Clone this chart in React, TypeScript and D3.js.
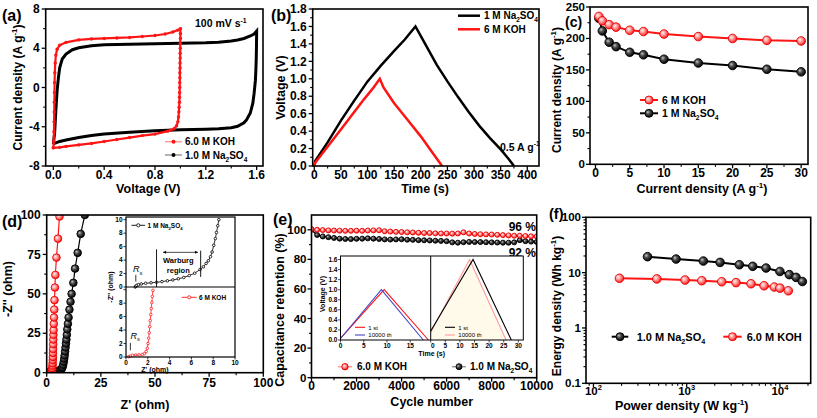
import React from 'react';
import * as d3 from 'd3';

const FONT = "'Liberation Sans', Arial, Helvetica, sans-serif";
const RED = '#ff1414';
const PINK = '#ff9a9a';
const BLUE = '#4646c8';

// ---------- (a) CV ----------
const cvKOH: [number, number][] = [
  [0.0, -6.15], [0.003, -5.5], [0.005, -4.5], [0.006, -3.5], [0.007, -2.5], [0.008, -1.5], [0.009, -0.5],
  [0.01, 0.5], [0.012, 1.5], [0.015, 2.5], [0.02, 3.3], [0.03, 3.9], [0.05, 4.3], [0.1, 4.6], [0.2, 4.85],
  [0.3, 4.95], [0.4, 5.0], [0.5, 5.05], [0.6, 5.1], [0.7, 5.2], [0.8, 5.3], [0.88, 5.45], [0.94, 5.65],
  [0.98, 5.85], [1.0, 6.0], [1.0, 5.5], [1.0, 5.0], [0.999, 4.5], [0.999, 4.0], [0.998, 3.5], [0.998, 3.0],
  [0.997, 2.5], [0.997, 2.0], [0.996, 1.5], [0.996, 1.0], [0.995, 0.5], [0.995, 0], [0.994, -0.5],
  [0.993, -1.0], [0.992, -1.5], [0.99, -2.0], [0.988, -2.5], [0.985, -3.0], [0.98, -3.5], [0.97, -3.9],
  [0.95, -4.2], [0.92, -4.35], [0.9, -4.45], [0.8, -4.75], [0.7, -4.9], [0.6, -5.1], [0.5, -5.3],
  [0.4, -5.5], [0.3, -5.7], [0.2, -5.85], [0.1, -6.0], [0.05, -6.1], [0.0, -6.15],
];
const cvNa: [number, number][] = [
  [0, -5.75], [0.005, -5.2], [0.01, -4.7], [0.015, -3.5], [0.02, -2.3], [0.03, -0.3], [0.04, 1.0],
  [0.05, 2.0], [0.07, 2.9], [0.1, 3.4], [0.15, 3.85], [0.2, 4.05], [0.3, 4.25], [0.4, 4.35], [0.6, 4.4],
  [0.8, 4.45], [1.0, 4.5], [1.2, 4.55], [1.3, 4.62], [1.4, 4.75], [1.45, 4.85], [1.5, 5.0], [1.55, 5.25],
  [1.58, 5.45], [1.6, 5.75], [1.599, 4.5], [1.597, 3.0], [1.594, 1.8], [1.59, 0.7], [1.58, -0.6],
  [1.57, -1.6], [1.55, -2.6], [1.52, -3.3], [1.5, -3.6], [1.45, -3.95], [1.4, -4.1], [1.3, -4.2],
  [1.2, -4.25], [1.0, -4.3], [0.8, -4.4], [0.6, -4.55], [0.4, -4.75], [0.3, -4.9], [0.2, -5.1],
  [0.1, -5.35], [0.05, -5.5], [0, -5.75],
];
const aXTicks = [0, 0.4, 0.8, 1.2, 1.6];
const aYTicks = [-8, -4, 0, 4, 8];

// ---------- (b) GCD ----------
const gcdNa: [number, number][] = [
  [0, 0.0], [2, 0.06], [25, 0.27], [50, 0.52], [75, 0.75], [100, 0.97], [125, 1.15], [150, 1.32],
  [170, 1.45], [190, 1.6], [210, 1.38], [230, 1.16], [250, 0.97], [270, 0.79], [290, 0.62], [310, 0.46],
  [330, 0.32], [350, 0.19], [365, 0.08], [375, 0.0],
];
const gcdKOH: [number, number][] = [
  [0, 0], [2, 0.04], [30, 0.26], [60, 0.5], [90, 0.74], [110, 0.89], [123, 1.0], [130, 0.9], [150, 0.72],
  [175, 0.53], [200, 0.34], [220, 0.17], [240, 0.0],
];
const bXTicks = [0, 50, 100, 150, 200, 250, 300, 350, 400];
const bYTicks = [0, 0.2, 0.4, 0.6, 0.8, 1.0, 1.2, 1.4, 1.6, 1.8];

// ---------- (c) rate ----------
const rateX = [0.5, 1, 2, 3, 5, 7, 10, 15, 20, 25, 30];
const rateKOH = [235, 228, 222, 218, 213, 211, 207, 203, 200, 197, 196];
const rateNa = [232, 212, 194, 187, 178, 174, 167, 161, 157, 151, 147];
const cXTicks = [0, 5, 10, 15, 20, 25, 30];
const cYTicks = [0, 50, 100, 150, 200, 250];

// ---------- (d) Nyquist ----------
const nyqKOH: [number, number][] = [
  [0.5, 0.2], [1, 0.3], [1.5, 0.4], [2, 0.6], [2.3, 1], [2.5, 2], [2.6, 3], [2.7, 4.5], [2.75, 6], [2.8, 8],
  [2.85, 10], [2.9, 12.5], [2.95, 15], [3.0, 18], [3.05, 21], [3.1, 24], [3.2, 27], [3.3, 31], [3.4, 35],
  [3.5, 40], [3.6, 46], [3.8, 54], [4.0, 62], [4.5, 73], [5.2, 85], [5.9, 99],
];
const nyqNa: [number, number][] = [
  [2, 0.5], [3, 0.7], [4, 0.9], [5, 1.1], [6, 1.5], [6.5, 1.9], [7, 2.6], [7.3, 3.5], [7.6, 5], [7.9, 7],
  [8.1, 9], [8.3, 11], [8.5, 13.5], [8.7, 16], [8.9, 18.5], [9.1, 21], [9.3, 24], [9.5, 27.5], [9.8, 31],
  [10.1, 35], [10.5, 40], [11, 45], [11.5, 50], [12.3, 57], [13.1, 66], [14.3, 76], [15.7, 88], [17.6, 100],
];
const insetNa: [number, number][] = [
  [0.85, 0.0], [0.9, 0.12], [1.0, 0.25], [1.15, 0.35], [1.4, 0.45], [1.8, 0.55], [2.3, 0.63], [2.8, 0.7],
  [3.3, 0.8], [3.8, 0.92], [4.3, 1.05], [4.8, 1.22], [5.3, 1.42], [5.8, 1.7], [6.3, 2.05], [6.8, 2.6],
  [7.1, 3.0], [7.35, 3.5], [7.55, 3.9], [7.75, 4.5], [7.9, 5.2], [8.05, 6.2], [8.2, 7.2], [8.3, 8.1],
  [8.42, 9.1], [8.52, 10],
];
const insetKOH: [number, number][] = [
  [0.25, 0.05], [0.4, 0.15], [0.6, 0.25], [0.9, 0.3], [1.2, 0.32], [1.5, 0.38], [1.7, 0.5], [1.85, 0.8],
  [1.95, 1.3], [2.02, 2.0], [2.08, 2.8], [2.13, 3.6], [2.18, 4.5], [2.22, 5.4], [2.27, 6.3], [2.32, 7.2],
  [2.37, 8.1], [2.42, 9.0], [2.47, 9.9],
];
const dTicks = [0, 25, 50, 75, 100];
const insetXTicks = [0, 2, 4, 6, 8, 10];
const insetYTicks = [0, 2, 4, 6, 8, 10];

// ---------- (e) cycling ----------
const cycles = [
  0, 250, 500, 750, 1000, 1250, 1500, 1750, 2000, 2250, 2500, 2750, 3000, 3250, 3500, 3750, 4000, 4250,
  4500, 4750, 5000, 5250, 5500, 5750, 6000, 6250, 6500, 6750, 7000, 7250, 7500, 7750, 8000, 8250, 8500,
  8750, 9000, 9250, 9500, 9750, 10000,
];
const retKOH = [
  100.5, 100, 99.8, 99.6, 99.5, 99.4, 99.3, 99.3, 99.4, 99.3, 99.5, 99.6, 99.7, 99.0, 98.8, 98.6, 98.5,
  98.3, 98.2, 98.0, 97.8, 97.8, 97.6, 97.5, 97.5, 97.4, 97.5, 98.3, 97.5, 97.2, 97.0, 96.9, 96.8, 96.6,
  96.4, 96.2, 96.0, 96.0, 95.8, 95.6, 95.5,
];
const retNa = [
  100, 96.5, 95.5, 95, 94.5, 94, 93.8, 93.7, 93.9, 94, 94.2, 94, 93.8, 93.5, 93.4, 93.5, 93.6, 93.3, 93.2,
  93.0, 92.9, 92.8, 92.6, 92.5, 92.3, 91.5, 91.3, 91.6, 91.8, 91.7, 91.7, 91.6, 91.5, 91.4, 91.3, 91.3,
  91.5, 93.0, 92.3, 92.0, 91.8,
];
const eXTicks = [0, 2000, 4000, 6000, 8000, 10000];
const eYTicks = [0, 20, 40, 60, 80, 100];
const inKOH1st: [number, number][] = [[0, 0.03], [9.4, 1.0], [18.9, 0.0]];
const inKOH10k: [number, number][] = [[0, 0.03], [8.8, 1.0], [17.8, 0.0]];
const inNa1st: [number, number][] = [[0, 0.18], [14.5, 1.6], [27.6, 0.0]];
const inNa10k: [number, number][] = [[0, 0.15], [13.3, 1.6], [25.8, 0.0]];
const inLeftXTicks = [0, 5, 10, 15];
const inRightXTicks = [0, 5, 10, 15, 20, 25, 30];
const inYTicks = [0, 0.2, 0.4, 0.6, 0.8, 1.0, 1.2, 1.4, 1.6];

// ---------- (f) Ragone ----------
const ragNaP = [380, 770, 1510, 2280, 3670, 5110, 7100, 10000, 12600, 14900, 17400];
const ragNaE = [19.4, 17.6, 16.2, 15.3, 13.9, 13.0, 12.1, 10.5, 9.2, 8.2, 6.9];
const ragKOHP = [190, 478, 961, 1452, 2376, 3380, 4900, 6760, 8710, 10000, 12300];
const ragKOHE = [7.9, 7.7, 7.35, 7.15, 6.85, 6.6, 6.3, 5.8, 5.5, 5.25, 4.7];
const fXTicks = [100, 1000, 10000];
const fYTicks = [0.1, 1, 10, 100];

type Seg = string | { sub: string } | { sup: string };

function Rich({ x, y, segs, size, anchor = 'start', weight = 'bold', rotate = false, fill = '#000', italic = false }: any) {
  let shift = 0;
  const els: any[] = [];
  (segs as Seg[]).forEach((s, i) => {
    if (typeof s === 'string') {
      els.push(<tspan key={i} dy={-shift} fontSize={size}>{s}</tspan>);
      shift = 0;
    } else if ('sub' in s) {
      const d = size * 0.3;
      els.push(<tspan key={i} dy={d - shift} fontSize={size * 0.65}>{s.sub}</tspan>);
      shift = d;
    } else {
      const d = -size * 0.42;
      els.push(<tspan key={i} dy={d - shift} fontSize={size * 0.65}>{s.sup}</tspan>);
      shift = d;
    }
  });
  return (
    <text x={x} y={y} fontFamily={FONT} fontWeight={weight} fontStyle={italic ? 'italic' : 'normal'}
      fontSize={size} textAnchor={anchor} fill={fill}
      transform={rotate ? `rotate(-90, ${x}, ${y})` : undefined}>{els}</text>
  );
}

function Axes({ x, y, xTicks, yTicks, xMinor = [], yMinor = [], xFmt = (d: any) => String(d), yFmt = (d: any) => String(d),
  fs = 12, yfs, tl = 4, ml = 2.5, sw = 1.6, xLab = true, yLab = true, xGap = 13, yGap = 6, xRender, frame = true }: any) {
  const [x0, x1] = x.range();
  const [y0, y1] = y.range();
  const yf = yfs || fs;
  return (
    <g>
      {frame && <rect x={x0} y={y1} width={x1 - x0} height={y0 - y1} fill="none" stroke="#000" strokeWidth={sw} />}
      {xTicks.map((t: number, i: number) => (
        <g key={'xt' + i}>
          <line x1={x(t)} x2={x(t)} y1={y0} y2={y0 + tl} stroke="#000" strokeWidth={sw * 0.8} />
          {xLab && (xRender ? xRender(t, x(t), y0 + xGap) :
            <text x={x(t)} y={y0 + xGap} textAnchor="middle" fontFamily={FONT} fontWeight="bold" fontSize={fs}>{xFmt(t)}</text>)}
        </g>
      ))}
      {xMinor.map((t: number, i: number) => (
        <line key={'xm' + i} x1={x(t)} x2={x(t)} y1={y0} y2={y0 + ml} stroke="#000" strokeWidth={sw * 0.7} />
      ))}
      {yTicks.map((t: number, i: number) => (
        <g key={'yt' + i}>
          <line x1={x0} x2={x0 - tl} y1={y(t)} y2={y(t)} stroke="#000" strokeWidth={sw * 0.8} />
          {yLab && <text x={x0 - yGap} y={y(t)} dy="0.35em" textAnchor="end" fontFamily={FONT} fontWeight="bold" fontSize={yf}>{yFmt(t)}</text>}
        </g>
      ))}
      {yMinor.map((t: number, i: number) => (
        <line key={'ym' + i} x1={x0} x2={x0 - ml} y1={y(t)} y2={y(t)} stroke="#000" strokeWidth={sw * 0.7} />
      ))}
    </g>
  );
}

const NA = (pre: string): Seg[] => [pre + 'Na', { sub: '2' }, 'SO', { sub: '4' }];

function Sphere({ cx, cy, r, color }: any) {
  return <circle cx={cx} cy={cy} r={r} fill={color === 'red' ? 'url(#gRed)' : 'url(#gBlack)'}
    stroke={color === 'red' ? '#e80000' : '#000'} strokeWidth={0.9} />;
}

function clipRect(id: string, x: any, y: any) {
  const [x0, x1] = x.range();
  const [y0, y1] = y.range();
  return <clipPath id={id}><rect x={x0} y={y1} width={x1 - x0} height={y0 - y1} /></clipPath>;
}

const range = (a: number, b: number, s: number) => d3.range(a, b + s / 2, s);

export default function App() {
  // scales
  const xA = d3.scaleLinear().domain([-0.06, 1.65]).range([45.7, 263]);
  const yA = d3.scaleLinear().domain([-8, 8]).range([166, 9]);
  const xB = d3.scaleLinear().domain([-3, 422]).range([312.7, 539]);
  const yB = d3.scaleLinear().domain([0, 1.8]).range([166, 9]);
  const xC = d3.scaleLinear().domain([-0.8, 31]).range([590, 808]);
  const yC = d3.scaleLinear().domain([0, 250]).range([164.3, 7]);
  const xD = d3.scaleLinear().domain([0, 100]).range([46.7, 263.3]);
  const yD = d3.scaleLinear().domain([0, 100]).range([372.7, 215]);
  const xDi = d3.scaleLinear().domain([0, 10]).range([126, 235]);
  const yDu = d3.scaleLinear().domain([0, 10.4]).range([287, 217]);
  const yDl = d3.scaleLinear().domain([0, 10.4]).range([357, 287]);
  const xE = d3.scaleLinear().domain([0, 10000]).range([311.5, 536.7]);
  const yE = d3.scaleLinear().domain([0, 110]).range([377.7, 215]);
  const xEl = d3.scaleLinear().domain([0, 19.4]).range([340.5, 430.7]);
  const xEr = d3.scaleLinear().domain([0, 31.7]).range([430.7, 523.3]);
  const yEi = d3.scaleLinear().domain([0, 1.67]).range([340, 256]);
  const xF = d3.scaleLog().domain([Math.pow(10, 1.92), Math.pow(10, 4.33)]).range([586, 810.7]);
  const yF = d3.scaleLog().domain([0.1, 100]).range([383.3, 217.3]);

  const ln = (xs: any, ys: any) => d3.line<[number, number]>().x(d => xs(d[0])).y(d => ys(d[1]));
  const lnC = (xs: any, ys: any, X: number[], Y: number[]) =>
    d3.line<number>().x((_, i) => xs(X[i])).y((_, i) => ys(Y[i]))(X);

  const fMinor: number[] = [];
  [10, 100, 1000, 10000].forEach(dec => { for (let k = 2; k <= 9; k++) { const v = dec * k; if (v > xF.domain()[0] && v < xF.domain()[1]) fMinor.push(v); } });
  const fYMinor: number[] = [];
  [0.1, 1, 10].forEach(dec => { for (let k = 2; k <= 9; k++) fYMinor.push(dec * k); });

  return (
    <svg width={817} height={418} style={{ position: 'absolute', left: 0, top: 0, background: '#fff' }}
      xmlns="http://www.w3.org/2000/svg">
      <defs>
        <radialGradient id="gRed" cx="0.4" cy="0.4" r="0.6" fx="0.35" fy="0.35">
          <stop offset="0%" stopColor="#fff4f4" />
          <stop offset="45%" stopColor="#ff9c9c" />
          <stop offset="100%" stopColor="#ff1a1a" />
        </radialGradient>
        <radialGradient id="gBlack" cx="0.4" cy="0.4" r="0.6" fx="0.35" fy="0.35">
          <stop offset="0%" stopColor="#c8c8c8" />
          <stop offset="40%" stopColor="#505050" />
          <stop offset="100%" stopColor="#000" />
        </radialGradient>
        {clipRect('cA', xA, yA)}
        {clipRect('cB', xB, yB)}
        {clipRect('cC', xC, yC)}
        {clipRect('cD', xD, yD)}
        {clipRect('cE', xE, yE)}
        {clipRect('cF', xF, yF)}
      </defs>
      <rect x={0} y={0} width={817} height={418} fill="#fff" />

      {/* ================= (a) ================= */}
      <g>
        <g clipPath="url(#cA)">
          <path d={ln(xA, yA)(cvNa) || ''} fill="none" stroke="#000" strokeWidth={3} />
          <path d={ln(xA, yA)(cvKOH) || ''} fill="none" stroke={RED} strokeWidth={2.2} />
          {cvKOH.map((d, i) => <circle key={i} cx={xA(d[0])} cy={yA(d[1])} r={1.7} fill={RED} />)}
        </g>
        <Axes x={xA} y={yA} xTicks={aXTicks} yTicks={aYTicks} xMinor={[0.2, 0.6, 1.0, 1.4]} yMinor={[-6, -2, 2, 6]}
          xFmt={(d: number) => d.toFixed(1)} />
        <Rich x={195} y={27} size={10.5} segs={['100 mV s', { sup: '-1' }]} />
        <line x1={165} x2={182} y1={141.7} y2={141.7} stroke={PINK} strokeWidth={1.5} />
        <circle cx={173.5} cy={141.7} r={2} fill={RED} />
        <Rich x={185} y={145.3} size={10} segs={['6.0 M KOH']} />
        <line x1={165} x2={182} y1={155} y2={155} stroke="#9a9a9a" strokeWidth={1.5} />
        <circle cx={173.5} cy={155} r={2} fill="#000" />
        <Rich x={185} y={158.6} size={10} segs={NA('1.0 M ')} />
        <Rich x={22} y={87.5} size={12} rotate segs={['Current density (A g', { sup: '-1' }, ')']} anchor="middle" />
        <Rich x={148.3} y={192.7} size={12.5} segs={['Voltage (V)']} anchor="middle" />
        <Rich x={2} y={20.7} size={16} segs={['(a)']} />
      </g>

      {/* ================= (b) ================= */}
      <g>
        <g clipPath="url(#cB)">
          <path d={ln(xB, yB)(gcdNa) || ''} fill="none" stroke="#000" strokeWidth={2.5} />
          <path d={ln(xB, yB)(gcdKOH) || ''} fill="none" stroke={RED} strokeWidth={2.5} />
        </g>
        <Axes x={xB} y={yB} xTicks={bXTicks} yTicks={bYTicks} xMinor={range(25, 375, 50)} yMinor={range(0.1, 1.7, 0.2)}
          yFmt={(d: number) => d.toFixed(1)} />
        <line x1={458} x2={480} y1={15.7} y2={15.7} stroke="#000" strokeWidth={2.5} />
        <Rich x={484} y={19.3} size={10} segs={NA('1 M ')} />
        <line x1={458} x2={480} y1={29.3} y2={29.3} stroke={RED} strokeWidth={2.5} />
        <Rich x={484} y={32.9} size={10} segs={['6 M KOH']} />
        <Rich x={500} y={150.5} size={10.5} segs={['0.5 A g', { sup: '-1' }]} />
        <Rich x={285} y={87.5} size={12.5} rotate segs={['Voltage (V)']} anchor="middle" />
        <Rich x={425} y={192.7} size={12.5} segs={['Time (s)']} anchor="middle" />
        <Rich x={271} y={20.7} size={16} segs={['(b)']} />
      </g>

      {/* ================= (c) ================= */}
      <g>
        <g clipPath="url(#cC)">
          <path d={lnC(xC, yC, rateX, rateNa) || ''} fill="none" stroke="#000" strokeWidth={2} />
          <path d={lnC(xC, yC, rateX, rateKOH) || ''} fill="none" stroke={RED} strokeWidth={2} />
        </g>
        {rateX.map((v, i) => <Sphere key={'n' + i} cx={xC(v)} cy={yC(rateNa[i])} r={4.3} color="black" />)}
        {rateX.map((v, i) => <Sphere key={'k' + i} cx={xC(v)} cy={yC(rateKOH[i])} r={4.3} color="red" />)}
        <Axes x={xC} y={yC} xTicks={cXTicks} yTicks={cYTicks} xMinor={range(2.5, 27.5, 5)} yMinor={range(25, 225, 50)}
          yfs={11.5} yGap={5} />
        <line x1={640} x2={658} y1={100} y2={100} stroke={RED} strokeWidth={2} />
        <Sphere cx={649} cy={100} r={4} color="red" />
        <Rich x={662} y={103.8} size={10.5} segs={['6 M KOH']} />
        <line x1={640} x2={658} y1={113.3} y2={113.3} stroke="#000" strokeWidth={2} />
        <Sphere cx={649} cy={113.3} r={4} color="black" />
        <Rich x={662} y={117.1} size={10.5} segs={NA('1 M ')} />
        <Rich x={561} y={90} size={12} rotate segs={['Current density (A g', { sup: '-1' }, ')']} anchor="middle" />
        <Rich x={702} y={193} size={12.5} segs={['Current density (A g', { sup: '-1' }, ')']} anchor="middle" />
        <Rich x={565} y={26.5} size={14} segs={['(c)']} />
      </g>

      {/* ================= (d) ================= */}
      <g>
        <g clipPath="url(#cD)">
          <path d={ln(xD, yD)(nyqNa) || ''} fill="none" stroke="#000" strokeWidth={1.2} />
          <path d={ln(xD, yD)(nyqKOH) || ''} fill="none" stroke={RED} strokeWidth={1.2} />
          {nyqNa.map((d, i) => <Sphere key={'n' + i} cx={xD(d[0])} cy={yD(d[1])} r={3.8} color="black" />)}
          {nyqKOH.map((d, i) => <Sphere key={'k' + i} cx={xD(d[0])} cy={yD(d[1])} r={3.8} color="red" />)}
        </g>
        <Axes x={xD} y={yD} xTicks={dTicks} yTicks={dTicks} xMinor={range(12.5, 87.5, 25)} yMinor={range(12.5, 87.5, 25)} xGap={14} />
        <Rich x={12} y={289} size={12.5} rotate segs={["-Z'' (ohm)"]} anchor="middle" />
        <Rich x={145} y={409} size={12.5} segs={["Z' (ohm)"]} anchor="middle" />
        <Rich x={2} y={226.7} size={16} segs={['(d)']} />

        {/* inset */}
        <rect x={126} y={217} width={109} height={140} fill="#fff" />
        <path d={ln(xDi, yDu)(insetNa) || ''} fill="none" stroke="#000" strokeWidth={0.8} />
        {insetNa.map((d, i) => <circle key={'in' + i} cx={xDi(d[0])} cy={yDu(d[1])} r={1.3} fill="#fff" stroke="#000" strokeWidth={0.8} />)}
        <path d={ln(xDi, yDl)(insetKOH) || ''} fill="none" stroke={RED} strokeWidth={0.8} />
        {insetKOH.map((d, i) => <circle key={'ik' + i} cx={xDi(d[0])} cy={yDl(d[1])} r={1.3} fill="#fff" stroke={RED} strokeWidth={0.8} />)}
        <rect x={126} y={217} width={109} height={140} fill="none" stroke="#000" strokeWidth={1.2} />
        <line x1={126} x2={235} y1={yDu(0)} y2={yDu(0)} stroke="#000" strokeWidth={1.2} />
        {insetXTicks.map((t, i) => (
          <g key={'dx' + i}>
            <line x1={xDi(t)} x2={xDi(t)} y1={357} y2={359.5} stroke="#000" strokeWidth={0.8} />
            <text x={xDi(t)} y={364.5} textAnchor="middle" fontFamily={FONT} fontWeight="bold" fontSize={6.5}>{t}</text>
          </g>
        ))}
        {insetYTicks.map((t, i) => (
          <g key={'dy' + i}>
            <line x1={126} x2={123.5} y1={yDu(t)} y2={yDu(t)} stroke="#000" strokeWidth={0.8} />
            <text x={122.5} y={yDu(t)} dy="0.35em" textAnchor="end" fontFamily={FONT} fontWeight="bold" fontSize={6.5}>{t}</text>
            <line x1={126} x2={123.5} y1={yDl(t)} y2={yDl(t)} stroke="#000" strokeWidth={0.8} />
            {t < 10 && t > 0 && <text x={122.5} y={yDl(t)} dy="0.35em" textAnchor="end" fontFamily={FONT} fontWeight="bold" fontSize={6.5}>{t}</text>}
            {t === 0 && <text x={122.5} y={yDl(t)} dy="0.35em" textAnchor="end" fontFamily={FONT} fontWeight="bold" fontSize={6.5}>0</text>}
          </g>
        ))}
        <Rich x={113} y={287} size={7} rotate segs={["-Z'' (ohm)"]} anchor="middle" />
        <Rich x={155} y={372} size={7} segs={["Z' (ohm)"]} anchor="middle" />
        {/* annotations */}
        <line x1={xDi(2.8)} x2={xDi(2.8)} y1={yDu(0)} y2={yDu(5.6)} stroke="#000" strokeWidth={0.9} />
        <line x1={xDi(6.85)} x2={xDi(6.85)} y1={yDu(1.5)} y2={yDu(5.4)} stroke="#000" strokeWidth={0.9} />
        <line x1={xDi(3.4)} x2={xDi(6.6)} y1={yDu(5.15)} y2={yDu(5.15)} stroke="#000" strokeWidth={0.7} />
        <path d={`M${xDi(3.4)},${yDu(5.15)} l3,-1.5 l0,3 z`} fill="#000" />
        <path d={`M${xDi(6.6)},${yDu(5.15)} l-3,-1.5 l0,3 z`} fill="#000" />
        <Rich x={xDi(4.8)} y={yDu(3.5)} size={7.5} segs={['Warburg']} anchor="middle" />
        <Rich x={xDi(4.8)} y={yDu(2.1)} size={7.5} segs={['region']} anchor="middle" />
        <Rich x={133} y={272} size={9} weight="normal" italic segs={['R', { sub: 's' }]} />
        <line x1={xDi(0.9)} x2={xDi(0.9)} y1={yDu(0.8)} y2={yDu(1.8)} stroke="#000" strokeWidth={0.8} />
        <Rich x={130.5} y={338.5} size={9} weight="normal" italic segs={['R', { sub: 's' }]} />
        <line x1={xDi(0.4)} x2={xDi(0.4)} y1={yDl(1.0)} y2={yDl(2.1)} stroke="#000" strokeWidth={0.8} />
        <line x1={131.5} x2={145} y1={225.3} y2={225.3} stroke="#000" strokeWidth={0.9} />
        <circle cx={138.3} cy={225.3} r={1.6} fill="#fff" stroke="#000" strokeWidth={0.8} />
        <Rich x={147.5} y={227.8} size={6.5} segs={NA('1 M ')} />
        <line x1={181.7} x2={196.7} y1={297.3} y2={297.3} stroke={RED} strokeWidth={0.9} />
        <circle cx={189.2} cy={297.3} r={1.6} fill="#fff" stroke={RED} strokeWidth={0.8} />
        <Rich x={199} y={299.8} size={6.5} segs={['6 M KOH']} />
      </g>

      {/* ================= (e) ================= */}
      <g>
        <g clipPath="url(#cE)">
          <path d={lnC(xE, yE, cycles, retNa) || ''} fill="none" stroke="#000" strokeWidth={1.5} />
          {cycles.map((c, i) => <Sphere key={'n' + i} cx={xE(c)} cy={yE(retNa[i])} r={2.5} color="black" />)}
          <path d={lnC(xE, yE, cycles, retKOH) || ''} fill="none" stroke={RED} strokeWidth={1.5} />
          {cycles.map((c, i) => <Sphere key={'k' + i} cx={xE(c)} cy={yE(retKOH[i])} r={2.5} color="red" />)}
        </g>
        <Axes x={xE} y={yE} xTicks={eXTicks} yTicks={eYTicks} xMinor={range(1000, 9000, 2000)} yMinor={range(10, 90, 20)}
          yfs={11.5} yGap={5} xGap={12.3} />
        <text x={536} y={230.5} textAnchor="end" fontFamily={FONT} fontWeight="bold" fontSize={12}>96 %</text>
        <text x={536} y={257} textAnchor="end" fontFamily={FONT} fontWeight="bold" fontSize={12}>92 %</text>
        <line x1={338} x2={352} y1={366.7} y2={366.7} stroke={PINK} strokeWidth={1.5} />
        <Sphere cx={345} cy={366.7} r={3.2} color="red" />
        <Rich x={357} y={370.2} size={10} segs={['6.0 M KOH']} />
        <line x1={452} x2={466} y1={366.7} y2={366.7} stroke="#9a9a9a" strokeWidth={1.5} />
        <Sphere cx={459} cy={366.7} r={3} color="black" />
        <Rich x={470} y={370.2} size={10} segs={NA('1.0 M ')} />
        <Rich x={284} y={310} size={12.5} rotate segs={['Capacitance retention (%)']} anchor="middle" />
        <Rich x={431.7} y={405.5} size={12.5} segs={['Cycle number']} anchor="middle" />
        <Rich x={273} y={225} size={16} segs={['(e)']} />

        {/* inset */}
        <rect x={340.5} y={256} width={182.8} height={84} fill="#fff" />
        <path d={`${ln(xEr, yEi)(inNa10k)}L${xEr(0)},${yEi(0)}Z`} fill="#fffaea" stroke="none" />
        <path d={ln(xEl, yEi)(inKOH1st) || ''} fill="none" stroke={RED} strokeWidth={1.1} />
        <path d={ln(xEl, yEi)(inKOH10k) || ''} fill="none" stroke={BLUE} strokeWidth={1.1} />
        <path d={ln(xEr, yEi)(inNa10k) || ''} fill="none" stroke={PINK} strokeWidth={1.1} />
        <path d={ln(xEr, yEi)(inNa1st) || ''} fill="none" stroke="#000" strokeWidth={1.1} />
        <rect x={340.5} y={256} width={182.8} height={84} fill="none" stroke="#000" strokeWidth={1} />
        <line x1={430.7} x2={430.7} y1={256} y2={340} stroke="#000" strokeWidth={1} />
        {inLeftXTicks.map((t, i) => (
          <g key={'el' + i}>
            <line x1={xEl(t)} x2={xEl(t)} y1={340} y2={342.5} stroke="#000" strokeWidth={0.7} />
            <text x={xEl(t)} y={348} textAnchor="middle" fontFamily={FONT} fontWeight="bold" fontSize={6.5}>{t}</text>
          </g>
        ))}
        {inRightXTicks.map((t, i) => (
          <g key={'er' + i}>
            <line x1={xEr(t)} x2={xEr(t)} y1={340} y2={342.5} stroke="#000" strokeWidth={0.7} />
            <text x={xEr(t) + (t === 0 ? 2 : 0)} y={348} textAnchor="middle" fontFamily={FONT} fontWeight="bold" fontSize={6.5}>{t}</text>
          </g>
        ))}
        {inYTicks.map((t, i) => (
          <g key={'ey' + i}>
            <line x1={340.5} x2={338} y1={yEi(t)} y2={yEi(t)} stroke="#000" strokeWidth={0.7} />
            <text x={337.5} y={yEi(t)} dy="0.35em" textAnchor="end" fontFamily={FONT} fontWeight="bold" fontSize={6.5}>{t.toFixed(1)}</text>
          </g>
        ))}
        <Rich x={325} y={294} size={7} rotate segs={['Voltage (V)']} anchor="middle" />
        <Rich x={431.7} y={356} size={7} segs={['Time (s)']} anchor="middle" />
        <line x1={355} x2={365} y1={327.3} y2={327.3} stroke={RED} strokeWidth={1.1} />
        <Rich x={368.3} y={329.5} size={6} weight="normal" segs={['1 st']} />
        <line x1={355} x2={365} y1={335} y2={335} stroke={BLUE} strokeWidth={1.1} />
        <Rich x={368.3} y={337.2} size={6} weight="normal" segs={['10000 th']} />
        <line x1={445} x2={455} y1={327.3} y2={327.3} stroke="#000" strokeWidth={1.1} />
        <Rich x={458.3} y={329.5} size={6} weight="normal" segs={['1 st']} />
        <line x1={445} x2={455} y1={335} y2={335} stroke={PINK} strokeWidth={1.1} />
        <Rich x={458.3} y={337.2} size={6} weight="normal" segs={['10000 th']} />
      </g>

      {/* ================= (f) ================= */}
      <g>
        <g clipPath="url(#cF)">
          <path d={lnC(xF, yF, ragNaP, ragNaE) || ''} fill="none" stroke="#000" strokeWidth={2} />
          <path d={lnC(xF, yF, ragKOHP, ragKOHE) || ''} fill="none" stroke={RED} strokeWidth={2} />
        </g>
        {ragNaP.map((p, i) => <Sphere key={'n' + i} cx={xF(p)} cy={yF(ragNaE[i])} r={4.3} color="black" />)}
        {ragKOHP.map((p, i) => <Sphere key={'k' + i} cx={xF(p)} cy={yF(ragKOHE[i])} r={4.3} color="red" />)}
        <Axes x={xF} y={yF} xTicks={fXTicks} yTicks={fYTicks} xMinor={fMinor} yMinor={fYMinor} yfs={11.5} yGap={5}
          xRender={(t: number, px: number, py: number) => (
            <Rich x={px} y={py - 1} size={11.5} anchor="middle" segs={['10', { sup: String(Math.round(Math.log10(t))) }]} />
          )}
          yFmt={(d: number) => String(d)} />
        <line x1={611.7} x2={628.3} y1={336.7} y2={336.7} stroke="#000" strokeWidth={2} />
        <Sphere cx={620} cy={336.7} r={4} color="black" />
        <Rich x={636.7} y={340.6} size={11} segs={NA('1.0 M ')} />
        <line x1={723.3} x2={741.7} y1={336.7} y2={336.7} stroke={RED} strokeWidth={2} />
        <Sphere cx={732.5} cy={336.7} r={4} color="red" />
        <Rich x={746.7} y={340.6} size={11} segs={['6.0 M KOH']} />
        <Rich x={561} y={306} size={12} rotate segs={['Energy density (Wh kg', { sup: '-1' }, ')']} anchor="middle" />
        <Rich x={681.7} y={410} size={12.5} segs={['Power density (W kg', { sup: '-1' }, ')']} anchor="middle" />
        <Rich x={549} y={219} size={14.5} segs={['(f)']} />
      </g>
    </svg>
  );
}
